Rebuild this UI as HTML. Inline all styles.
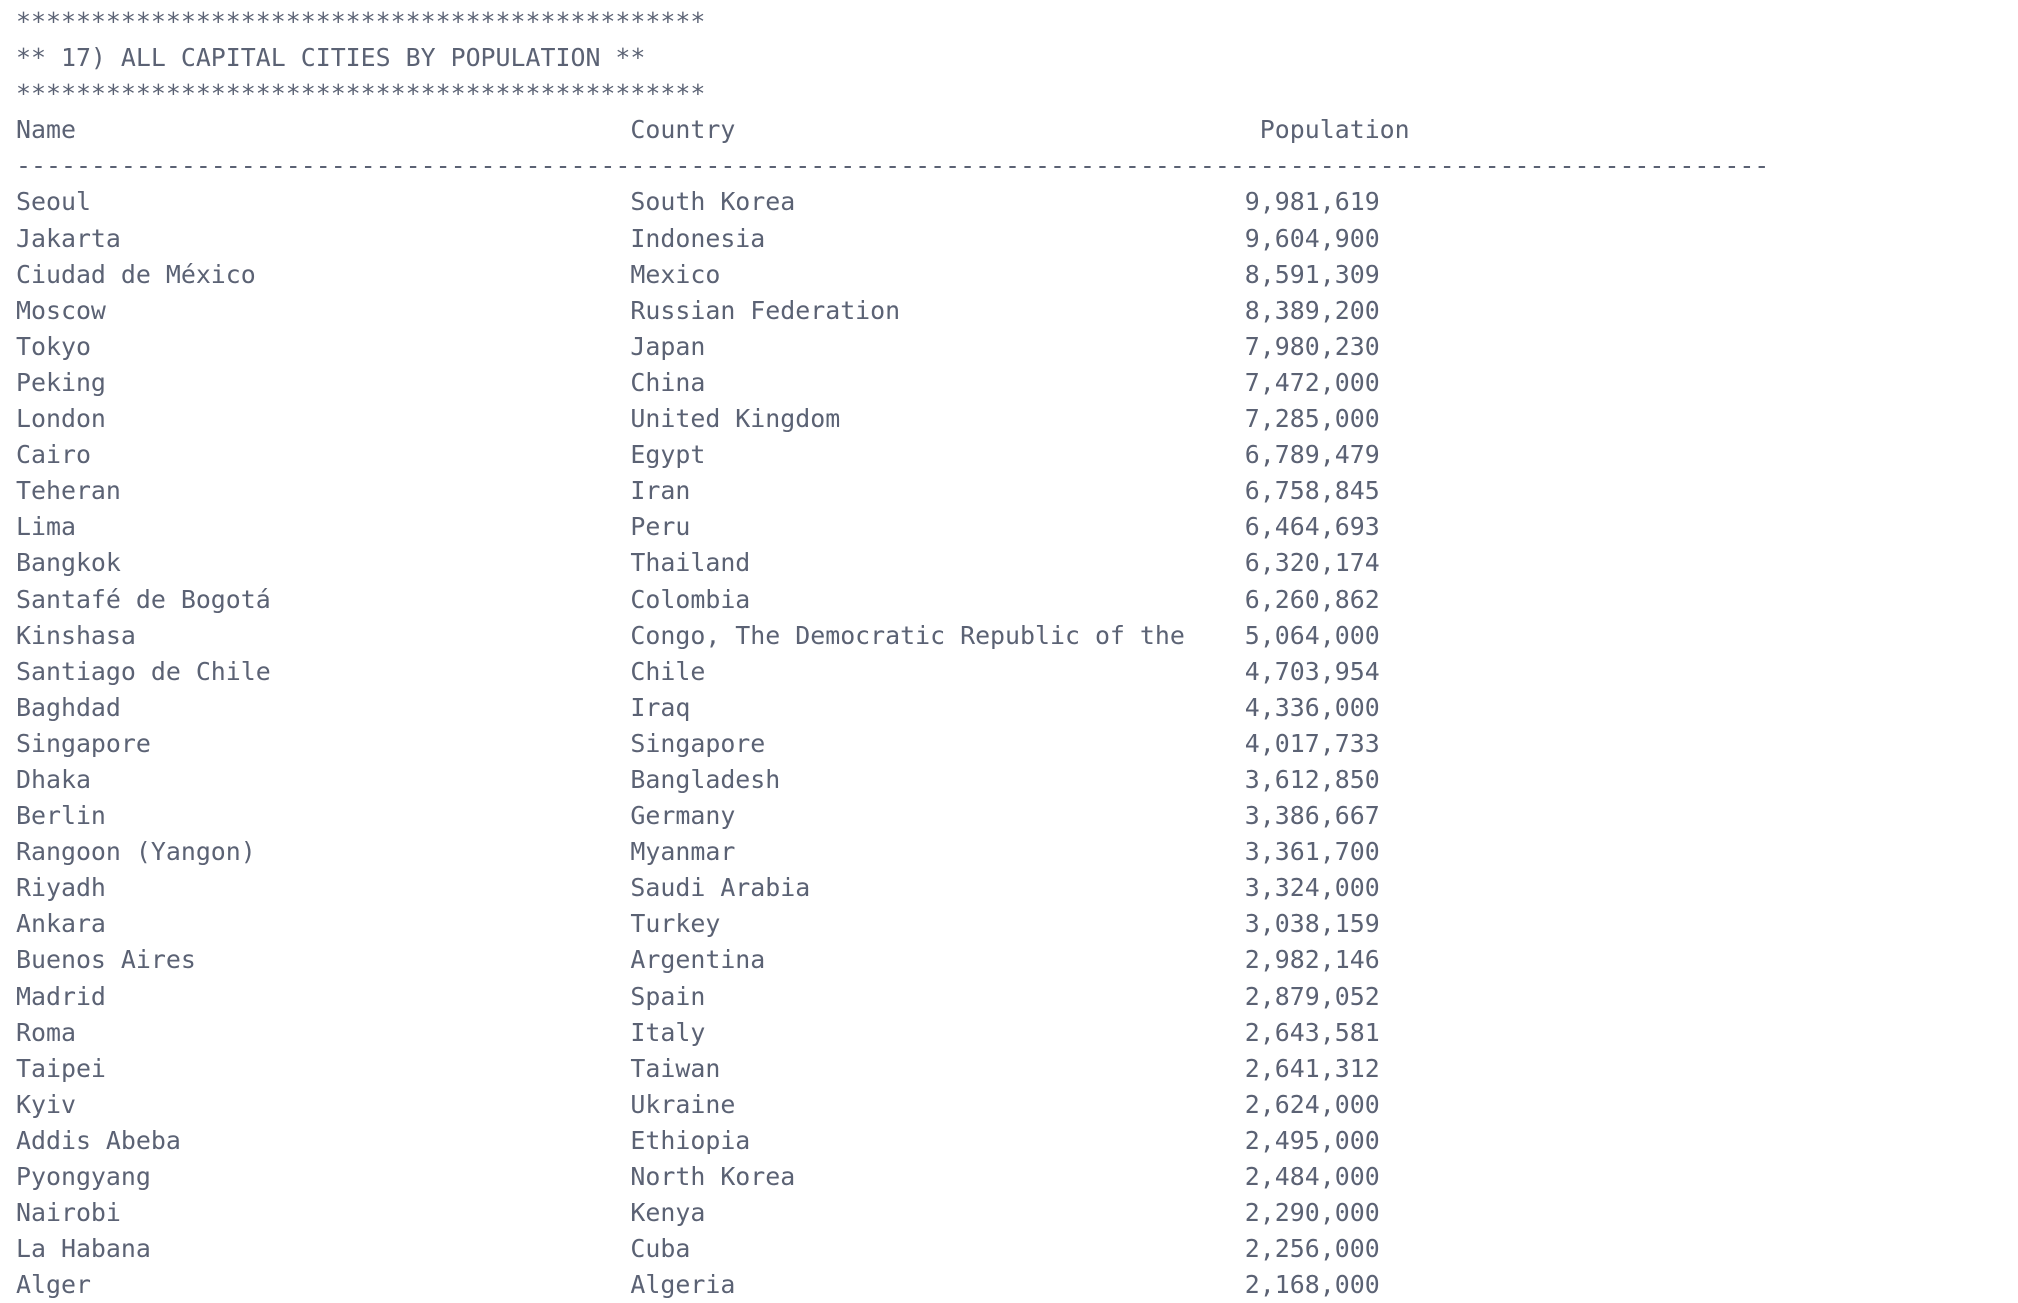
<!DOCTYPE html>
<html><head><meta charset="utf-8"><style>
html,body{margin:0;padding:0;background:#fff;width:2018px;height:1286px;overflow:hidden}
#out{position:absolute;left:16px;top:4px;margin:0;font-family:"DejaVu Sans Mono","Liberation Mono",monospace;font-size:24.9px;line-height:36.1px;color:#5b6274;white-space:pre}
.ln{display:block;height:36.1px}
</style></head><body>
<pre id="out"></pre>
<script>
const names=["Seoul","Jakarta","Ciudad de México","Moscow","Tokyo","Peking","London","Cairo","Teheran","Lima","Bangkok","Santafé de Bogotá","Kinshasa","Santiago de Chile","Baghdad","Singapore","Dhaka","Berlin","Rangoon (Yangon)","Riyadh","Ankara","Buenos Aires","Madrid","Roma","Taipei","Kyiv","Addis Abeba","Pyongyang","Nairobi","La Habana","Alger"];
const countries=["South Korea","Indonesia","Mexico","Russian Federation","Japan","China","United Kingdom","Egypt","Iran","Peru","Thailand","Colombia","Congo, The Democratic Republic of the","Chile","Iraq","Singapore","Bangladesh","Germany","Myanmar","Saudi Arabia","Turkey","Argentina","Spain","Italy","Taiwan","Ukraine","Ethiopia","North Korea","Kenya","Cuba","Algeria"];
const populations=[9981619,9604900,8591309,8389200,7980230,7472000,7285000,6789479,6758845,6464693,6320174,6260862,5064000,4703954,4336000,4017733,3612850,3386667,3361700,3324000,3038159,2982146,2879052,2643581,2641312,2624000,2495000,2484000,2290000,2256000,2168000];
const out=document.getElementById('out');
function add(text,name){
  const s=document.createElement('span');
  s.className='ln';
  s.textContent=text;
  
  
  out.appendChild(s);
}
const stars='*'.repeat(46);
add(stars,'banner-top');
add('** 17) ALL CAPITAL CITIES BY POPULATION **','report-title');
add(stars,'banner-bottom');
add('Name'.padEnd(41)+'Country'.padEnd(42)+'Population','table-header');
add('-'.repeat(117),'header-separator');
for(let i=0;i<names.length;i++){
  const num=populations[i].toLocaleString('en-US');
  add(names[i].padEnd(41)+countries[i].padEnd(50-num.length)+num,'city-row');
}
</script>
</body></html>
